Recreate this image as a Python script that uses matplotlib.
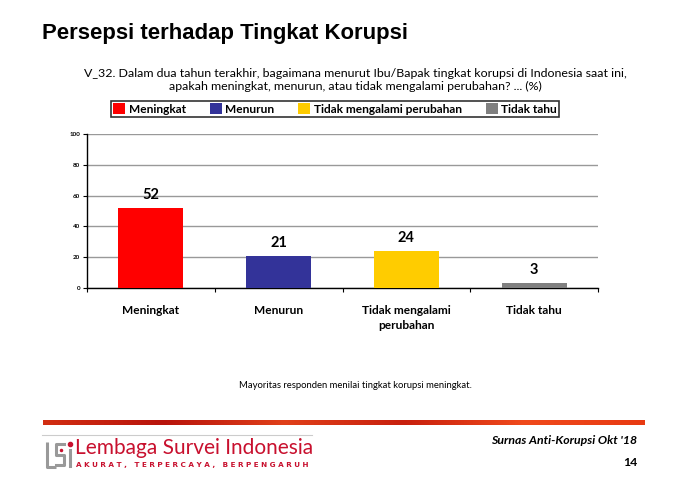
import matplotlib
matplotlib.use("Agg")
import matplotlib.pyplot as plt
import numpy as np
from matplotlib.patches import Patch
from matplotlib.colors import LinearSegmentedColormap

categories = ["Meningkat", "Menurun", "Tidak mengalami\nperubahan", "Tidak tahu"]
legend_labels = ["Meningkat", "Menurun", "Tidak mengalami perubahan", "Tidak tahu"]
values = [52, 21, 24, 3]
colors = ["#FF0000", "#333399", "#FFCC00", "#808080"]
yticks = [0, 20, 40, 60, 80, 100]

W, H = 683, 486
fig = plt.figure(figsize=(W / 100, H / 100), dpi=100)
fig.patch.set_facecolor("white")

def fx(px):
    return px / W

def fy(py):
    return 1 - py / H

body = "Lato"

# Title
fig.text(fx(42), fy(34), "Persepsi terhadap Tingkat Korupsi", fontsize=15.9,
         fontweight="bold", family="Liberation Sans", ha="left", va="center")

# Question
fig.text(fx(355), fy(80), "V_32. Dalam dua tahun terakhir, bagaimana menurut Ibu/Bapak tingkat korupsi di Indonesia saat ini,\napakah meningkat, menurun, atau tidak mengalami perubahan? ... (%)",
         fontsize=8.9, family=body, ha="center", va="center", linespacing=1.15)

# Axes
ax = fig.add_axes([fx(87), fy(288), (598 - 87) / W, (288 - 134) / H])
x = np.arange(len(values))
bars = ax.bar(x, values, width=0.51, color=colors, zorder=3)
ax.set_xlim(-0.5, len(values) - 0.5)
ax.set_ylim(0, 100)
ax.set_yticks(yticks)
ax.set_yticklabels([str(v) for v in yticks], fontsize=4.5, fontweight="bold", family=body)
ax.yaxis.grid(True, color="#999999", linewidth=1.0, zorder=0)
ax.set_axisbelow(True)
for s in ["top", "right"]:
    ax.spines[s].set_visible(False)
ax.spines["left"].set_linewidth(1.0)
ax.spines["bottom"].set_linewidth(1.0)
ax.tick_params(axis="y", length=3, width=0.8, pad=2)
ax.set_xticks(np.arange(len(values) + 1) - 0.5, minor=True)
ax.set_xticks(x)
ax.set_xticklabels(categories, fontsize=8.6, fontweight="bold", family=body, linespacing=1.5, va="top")
ax.tick_params(axis="x", which="major", length=0, pad=12)
ax.tick_params(axis="x", which="minor", length=3, width=0.8, direction="out")
for xi, v in zip(x, values):
    ax.text(xi, v + 4, str(v), ha="center", va="bottom", fontsize=10.5,
            fontweight="bold", family=body)

# Legend
handles = [Patch(facecolor=c, edgecolor="none") for c in colors]
leg = fig.legend(handles, legend_labels, loc="center", bbox_to_anchor=(fx(335), fy(109)),
                 ncol=4, frameon=True, fancybox=False, edgecolor="black",
                 prop={"family": body, "weight": "bold", "size": 8.6},
                 handlelength=1.0, handleheight=1.0, handletextpad=0.3,
                 columnspacing=2.0, borderpad=0.15)
leg.get_frame().set_linewidth(1.2)

# Caption
fig.text(fx(355), fy(385), "Mayoritas responden menilai tingkat korupsi meningkat.",
         fontsize=6.8, family=body, ha="center", va="center")

# Red gradient line
gax = fig.add_axes([fx(43), fy(425), (645 - 43) / W, 5 / H])
grad = np.linspace(0, 1, 256)
cmap = LinearSegmentedColormap.from_list("r", ["#D22E12", "#B8140C", "#E0401A", "#C8200E", "#F04A1C", "#E83A12"])
gax.imshow(np.vstack([grad, grad]), aspect="auto", cmap=cmap)
gax.axis("off")

# Gray thin line above logo
fig.add_artist(plt.Line2D([fx(42), fx(312)], [fy(435), fy(435)], color="#cccccc", linewidth=0.8))

# Logo glyph (simple)
lx = fig.add_axes([fx(44), fy(470), 32 / W, 32 / H])
lx.set_xlim(0, 32); lx.set_ylim(0, 32); lx.axis("off")
lx.plot([3, 3, 12], [28, 3, 3], color="#999999", linewidth=2.2, solid_capstyle="butt")
lx.plot([20, 12, 12, 20, 20, 12], [26, 26, 15, 15, 5, 5], color="#999999", linewidth=2.2)
lx.plot([26, 26], [20, 4], color="#999999", linewidth=2.2)
lx.plot([26], [26], marker="o", color="#C8102E", markersize=3)
lx.plot([17], [20], marker="o", color="#C8102E", markersize=1.5)

fig.text(fx(75), fy(448), "Lembaga Survei Indonesia", fontsize=15, color="#C8102E",
         family="Lato", ha="left", va="center")
fig.text(fx(76), fy(465), "A K U R A T ,   T E R P E R C A Y A ,   B E R P E N G A R U H",
         fontsize=5.2, color="#C8102E", fontweight="bold", family="DejaVu Sans",
         ha="left", va="center")

fig.text(fx(637), fy(440), "Surnas Anti-Korupsi Okt '18", fontsize=8.8, fontweight="bold",
         style="italic", family=body, ha="right", va="center")
fig.text(fx(637), fy(462), "14", fontsize=8.8, fontweight="bold", family=body,
         ha="right", va="center")

fig.savefig("out.png", dpi=100)
